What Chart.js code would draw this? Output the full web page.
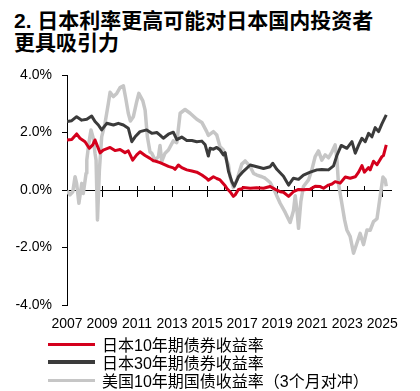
<!DOCTYPE html>
<html>
<head>
<meta charset="utf-8">
<script src="https://cdn.jsdelivr.net/npm/chart.js@4.4.1/dist/chart.umd.min.js"></script>
<style>
  html, body { margin: 0; padding: 0; background: #fff; }
  #wrap { position: relative; width: 420px; height: 391px; overflow: hidden;
          font-family: 'Liberation Sans', 'Noto Sans CJK SC', sans-serif; color: #000; }
  .title { position: absolute; left: 14px; top: 10px; font-size: 21px; font-weight: bold;
           line-height: 22px; white-space: nowrap; }
  .chart-box { position: absolute; left: 0; top: 0; width: 420px; height: 335px; }
  .legend { position: absolute; left: 48px; top: 335px; }
  .legend .row { display: flex; align-items: center; height: 18px; font-size: 16px; white-space: nowrap; }
  .legend .swatch { display: inline-block; width: 47px; margin-right: 7px; }
</style>
</head>
<body>
<div id="wrap">
  <div class="title">2. 日本利率更高可能对日本国内投资者<br>更具吸引力</div>
  <div class="chart-box"><canvas id="yieldChart" width="420" height="335"></canvas></div>
  <div class="legend" id="legend"></div>
</div>

<script>
// ============================================
// DADOS
// ============================================

const LABEL_YEARS = [2007, 2009, 2011, 2013, 2015, 2017, 2019, 2021, 2023, 2025];
const ALL_YEARS   = [2008, 2009, 2010, 2011, 2012, 2013, 2014, 2015, 2016, 2017,
                     2018, 2019, 2020, 2021, 2022, 2023, 2024, 2025];
const Y_TICKS     = [-4, -2, 0, 2, 4];

const SERIES_NAMES = ['日本10年期债券收益率', '日本30年期债券收益率', '美国10年期国债收益率（3个月对冲）'];

const jgb10Dates = [2007.00, 2007.27, 2007.55, 2007.74, 2008.03, 2008.27, 2008.47, 2008.60, 2008.89, 2009.07,
  2009.46, 2009.74, 2010.03, 2010.31, 2010.50, 2010.75, 2010.98, 2011.17, 2011.46, 2011.74,
  2011.93, 2012.03, 2012.31, 2012.60, 2012.79, 2013.07, 2013.17, 2013.36, 2013.55, 2013.84,
  2014.13, 2014.41, 2014.70, 2014.98, 2015.07, 2015.36, 2015.55, 2015.74, 2016.03, 2016.13,
  2016.31, 2016.50, 2016.60, 2016.79, 2016.98, 2017.07, 2017.46, 2017.84, 2018.22, 2018.60,
  2018.89, 2019.17, 2019.36, 2019.65, 2019.93, 2020.22, 2020.50, 2020.89, 2021.17, 2021.46,
  2021.65, 2021.93, 2022.13, 2022.31, 2022.60, 2022.89, 2023.17, 2023.46, 2023.65, 2023.84,
  2023.98, 2024.13, 2024.22, 2024.31, 2024.50, 2024.70, 2024.98, 2025.07, 2025.23];
const jgb10Yields = [1.74, 1.76, 1.95, 1.80, 1.68, 1.45, 1.57, 1.74, 1.29, 1.39,
  1.48, 1.37, 1.41, 1.30, 1.36, 1.04, 1.22, 1.33, 1.20, 1.10,
  1.02, 1.01, 0.95, 0.87, 0.82, 0.77, 0.72, 0.87, 0.78, 0.70,
  0.66, 0.62, 0.52, 0.40, 0.34, 0.46, 0.40, 0.35, 0.15, 0.05,
  -0.06, -0.22, -0.17, 0.02, 0.04, 0.09, 0.06, 0.08, 0.06, 0.12,
  0.02, -0.06, -0.08, -0.22, -0.06, 0.02, 0.01, 0.03, 0.13, 0.12,
  0.06, 0.17, 0.21, 0.29, 0.24, 0.45, 0.41, 0.46, 0.62, 0.85,
  0.62, 0.72, 0.78, 0.70, 1.00, 0.88, 1.16, 1.20, 1.57];

const jgb30Dates = [2007.00, 2007.27, 2007.55, 2007.84, 2008.13, 2008.41, 2008.60, 2008.79, 2008.98, 2009.27,
  2009.65, 2009.93, 2010.22, 2010.50, 2010.70, 2010.89, 2011.17, 2011.55, 2011.84, 2012.13,
  2012.31, 2012.50, 2012.79, 2013.07, 2013.27, 2013.55, 2013.84, 2014.13, 2014.41, 2014.70,
  2014.89, 2015.07, 2015.17, 2015.36, 2015.55, 2015.74, 2015.93, 2016.03, 2016.22, 2016.41,
  2016.55, 2016.79, 2017.07, 2017.46, 2017.84, 2018.22, 2018.60, 2018.75, 2018.98, 2019.36,
  2019.65, 2019.93, 2020.22, 2020.50, 2020.89, 2021.27, 2021.55, 2021.93, 2022.22, 2022.41,
  2022.66, 2022.98, 2023.27, 2023.46, 2023.65, 2023.84, 2024.03, 2024.22, 2024.41, 2024.60,
  2024.79, 2024.98, 2025.23];
const jgb30Yields = [2.38, 2.41, 2.55, 2.43, 2.46, 2.57, 2.38, 2.26, 2.09, 2.32,
  2.26, 2.32, 2.26, 2.15, 1.68, 1.85, 2.03, 2.09, 1.97, 2.00,
  1.91, 1.80, 1.94, 2.01, 1.75, 1.84, 1.72, 1.72, 1.68, 1.70,
  1.57, 1.18, 1.45, 1.42, 1.48, 1.39, 1.22, 1.30, 0.65, 0.29,
  0.13, 0.46, 0.65, 0.87, 0.81, 0.75, 0.81, 0.93, 0.72, 0.48,
  0.17, 0.41, 0.37, 0.52, 0.62, 0.70, 0.71, 0.70, 0.84, 1.20,
  1.55, 1.45, 1.68, 1.28, 1.56, 1.80, 1.68, 1.97, 1.85, 2.17,
  2.03, 2.30, 2.61];

const ust10Dates = [2007.00, 2007.17, 2007.33, 2007.46, 2007.55, 2007.68, 2007.84, 2007.93, 2008.09, 2008.13,
  2008.24, 2008.37, 2008.50, 2008.60, 2008.66, 2008.74, 2008.85, 2008.98, 2009.17, 2009.36,
  2009.46, 2009.65, 2009.84, 2010.03, 2010.22, 2010.35, 2010.50, 2010.62, 2010.79, 2010.98,
  2011.10, 2011.33, 2011.46, 2011.59, 2011.74, 2011.84, 2012.03, 2012.22, 2012.31, 2012.41,
  2012.60, 2012.79, 2013.07, 2013.27, 2013.46, 2013.74, 2014.03, 2014.41, 2014.70, 2014.98,
  2015.07, 2015.36, 2015.55, 2015.74, 2015.93, 2016.03, 2016.22, 2016.31, 2016.50, 2016.70,
  2016.98, 2017.17, 2017.46, 2017.65, 2017.84, 2018.13, 2018.31, 2018.60, 2018.89, 2019.17,
  2019.46, 2019.74, 2019.93, 2020.03, 2020.13, 2020.22, 2020.35, 2020.50, 2020.79, 2020.98,
  2021.17, 2021.36, 2021.55, 2021.74, 2021.93, 2022.13, 2022.31, 2022.41, 2022.50, 2022.66,
  2022.85, 2022.98, 2023.17, 2023.36, 2023.55, 2023.74, 2023.93, 2024.13, 2024.31, 2024.50,
  2024.70, 2024.89, 2025.04, 2025.17, 2025.23];
const ust10Hedged = [-0.03, -0.17, -0.06, 0.46, 0.23, -0.46, 0.23, -0.12, 0.58, 1.04,
  1.60, 2.09, 1.80, 1.28, 1.04, -1.04, 0.70, 1.85, 2.32, 3.01,
  3.40, 3.25, 3.36, 3.56, 3.62, 3.20, 2.67, 2.40, 2.55, 3.07,
  3.36, 3.10, 2.78, 1.85, 1.32, 1.28, 1.04, 1.16, 1.55, 1.00,
  1.28, 1.39, 1.71, 1.65, 2.67, 2.80, 2.67, 2.46, 2.35, 2.03,
  1.90, 2.03, 1.91, 1.50, 1.39, 1.16, 0.87, 0.46, 0.08, 0.35,
  0.90, 1.01, 0.81, 0.58, 0.52, 0.46, 0.41, 0.26, -0.08, -0.46,
  -0.78, -1.13, -0.72, -0.20, -0.70, -1.33, -0.41, 0.12, 0.35, 0.70,
  1.16, 1.36, 1.04, 1.22, 1.12, 1.33, 1.57, 1.08, 0.23, -0.35,
  -1.04, -1.39, -1.62, -2.20, -1.85, -1.51, -1.90, -1.39, -1.40, -1.10,
  -1.00, -0.18, 0.45, 0.35, 0.13];

// ============================================
// ESTILO
// ============================================

const COLORS   = ['#d4001c', '#3b3b3b', '#c6c6c6'];
const WIDTHS   = [3, 3, 3.5];
const LEG_THK  = [3, 4, 3];
const X_MIN = 2007, X_MAX = 2025.5;
const FONT = 'Liberation Sans, Noto Sans CJK SC, sans-serif';

const toPoints = (xs, ys) => xs.map((x, i) => ({ x, y: ys[i] }));
const setTicks = (vals) => (scale) => { scale.ticks = vals.map(v => ({ value: v })); };

// legenda em HTML
document.getElementById('legend').innerHTML = SERIES_NAMES.map((name, i) => `
  <div class="row"><span class="swatch" style="height:${LEG_THK[i]}px;background:${COLORS[i]}"></span>${name}</div>
`).join('');

// ============================================
// GRÁFICO
// ============================================

new Chart(document.getElementById('yieldChart'), {
  type: 'line',
  data: {
    datasets: [
      { label: SERIES_NAMES[0], data: toPoints(jgb10Dates, jgb10Yields) },
      { label: SERIES_NAMES[1], data: toPoints(jgb30Dates, jgb30Yields) },
      { label: SERIES_NAMES[2], data: toPoints(ust10Dates, ust10Hedged) },
    ].map((ds, i) => ({
      ...ds,
      borderColor: COLORS[i],
      borderWidth: WIDTHS[i],
      pointRadius: 0,
      tension: 0,
      borderJoinStyle: 'round',
      fill: false,
    })),
  },
  options: {
    responsive: false,
    devicePixelRatio: 1,
    animation: false,
    layout: { padding: { top: 75, right: 29, left: 0, bottom: 0 } },
    plugins: { legend: { display: false }, tooltip: { enabled: false } },
    scales: {
      x: {
        type: 'linear', position: 'bottom', min: X_MIN, max: X_MAX,
        afterBuildTicks: setTicks(LABEL_YEARS),
        afterFit: (s) => { s.height = 30; },
        grid:   { display: false, drawTicks: false },
        border: { display: false },
        ticks:  { autoSkip: false, maxRotation: 0, padding: 11, color: '#000',
                  font: { family: FONT, size: 14 }, callback: (v) => String(v) },
      },
      // traços curtos (todos os anos), logo acima da linha do zero
      xMinor: {
        type: 'linear', position: { y: 0.14 }, min: X_MIN, max: X_MAX,
        afterBuildTicks: setTicks(ALL_YEARS),
        ticks:  { display: false },
        grid:   { drawOnChartArea: false, drawTicks: true, tickLength: 4, tickColor: '#000', tickWidth: 1 },
        border: { display: false },
      },
      // linha do zero + traços longos (anos ímpares)
      xMajor: {
        type: 'linear', position: { y: 0 }, min: X_MIN, max: X_MAX,
        afterBuildTicks: setTicks(LABEL_YEARS),
        ticks:  { display: false },
        grid:   { drawOnChartArea: false, drawTicks: true, tickLength: 6, tickColor: '#000', tickWidth: 1 },
        border: { display: true, color: '#000', width: 1 },
      },
      y: {
        type: 'linear', position: 'left', min: -4, max: 4,
        afterBuildTicks: setTicks(Y_TICKS),
        afterFit: (s) => { s.width = 67; },
        grid:   { drawOnChartArea: false, tickLength: 5, tickColor: '#000' },
        border: { color: '#000', width: 1 },
        ticks:  { padding: 10, color: '#000', font: { family: FONT, size: 14 },
                  callback: (v) => v.toFixed(1) + '%' },
      },
    },
  },
});
</script>
</body>
</html>
